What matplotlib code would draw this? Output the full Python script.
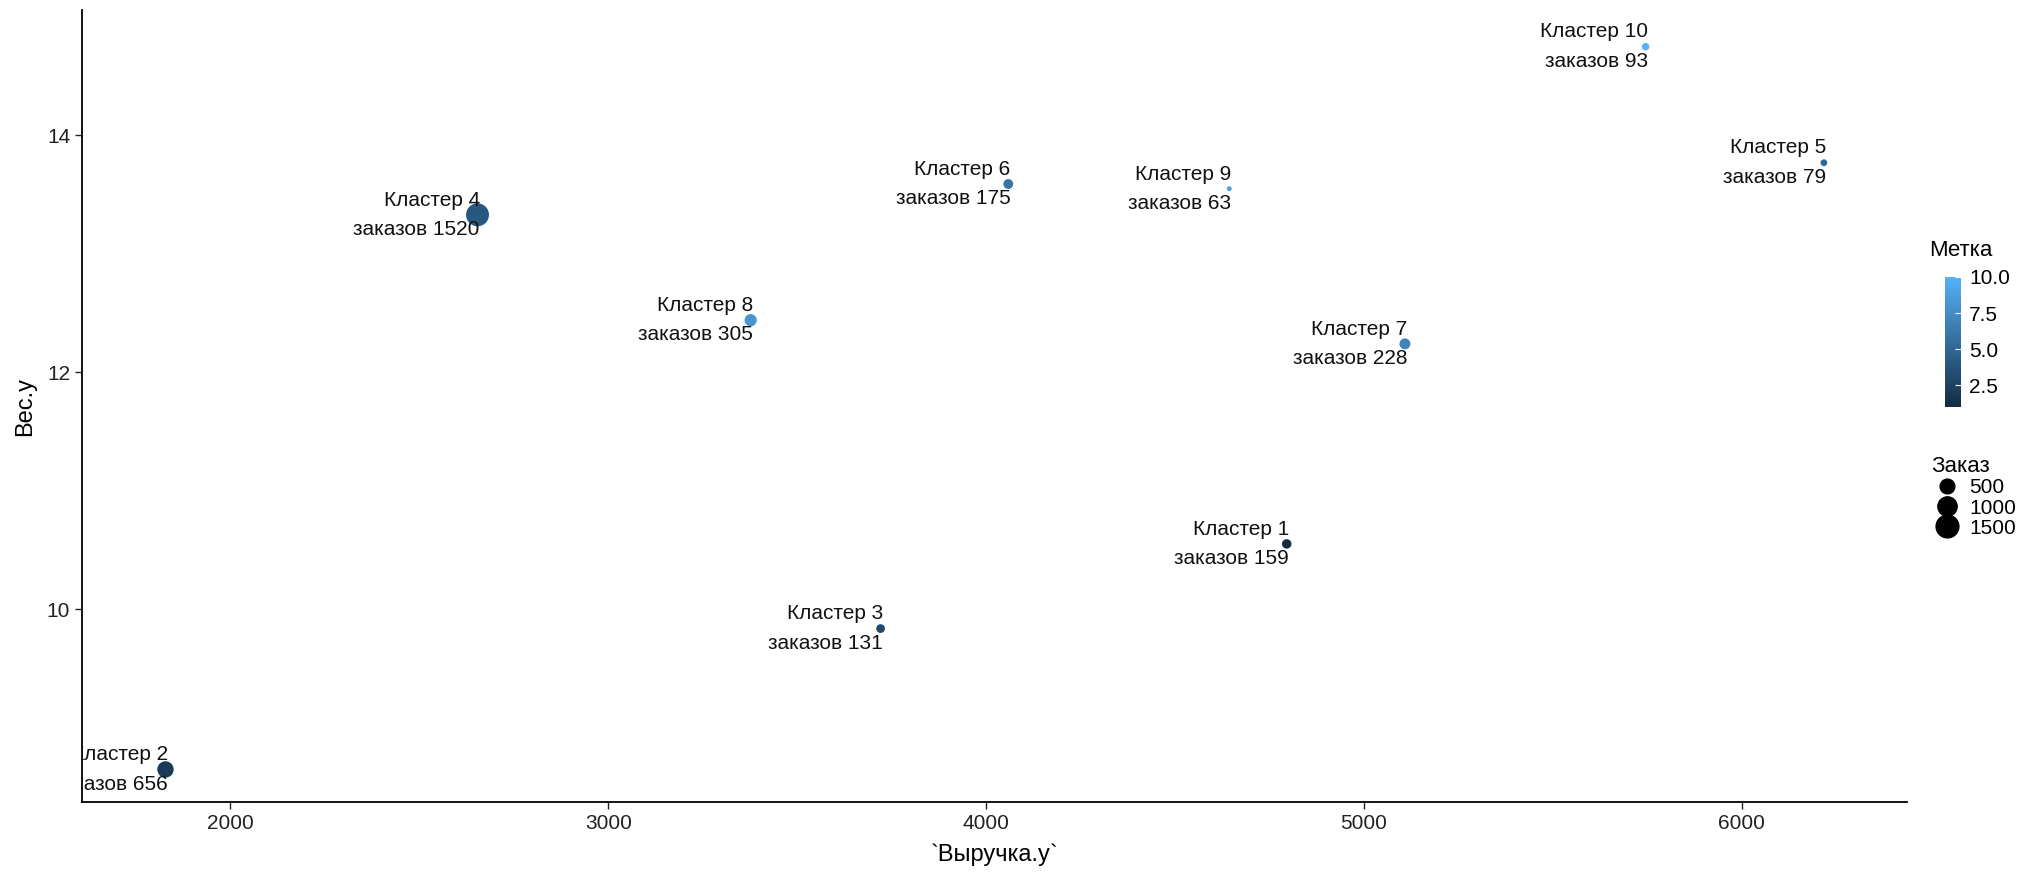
import numpy as np
import matplotlib
matplotlib.use("Agg")
import matplotlib.pyplot as plt
from matplotlib.colors import LinearSegmentedColormap, Normalize
from matplotlib.lines import Line2D

plt.rcParams['font.family'] = ['Liberation Sans', 'DejaVu Sans']

# данные кластеров
metka = [1, 2, 3, 4, 5, 6, 7, 8, 9, 10]
vyruchka = [4796, 1828, 3721, 2654, 6218, 4059, 5109, 3377, 4644, 5746]
ves = [10.55, 8.645, 9.835, 13.33, 13.77, 13.59, 12.24, 12.44, 13.55, 14.75]
zakaz = [159, 656, 131, 1520, 79, 175, 228, 305, 63, 93]

x_ticks = [2000, 3000, 4000, 5000, 6000]
y_ticks = [10, 12, 14]
cbar_ticks = [2.5, 5.0, 7.5, 10.0]
size_breaks = [500, 1000, 1500]

cmap = LinearSegmentedColormap.from_list("gg", ["#132B43", "#56B1F7"])
norm = Normalize(vmin=1, vmax=10)

zmin, zmax = min(zakaz), max(zakaz)
dmin, dmax = 3.5, 16.5


def diam(v):
    # как scale_size в ggplot: площадь пропорциональна значению
    return dmin + (dmax - dmin) * np.sqrt((np.asarray(v, float) - zmin) / (zmax - zmin))


W, H = 2041, 875
fig = plt.figure(figsize=(W / 100, H / 100), dpi=100)
ax = fig.add_axes([82 / W, 1 - 802 / H, (1907 - 82) / W, (802 - 10) / H])

ax.scatter(vyruchka, ves, s=diam(zakaz) ** 2, c=metka, cmap=cmap, norm=norm,
           linewidths=0, zorder=3)

for x, y, m, z in zip(vyruchka, ves, metka, zakaz):
    ax.text(x + 6, y, f"Кластер {m}\nзаказов {z}", ha='right', va='center',
            multialignment='right', fontsize=15, linespacing=1.7,
            color='#111111', zorder=4, clip_on=True)

ax.set_xlim(1607, 6438)
ax.set_ylim(8.37, 15.06)
ax.set_xticks(x_ticks)
ax.set_yticks(y_ticks)
ax.tick_params(labelsize=15, length=5, width=1, colors='#222222')
for side in ['top', 'right']:
    ax.spines[side].set_visible(False)
for side in ['left', 'bottom']:
    ax.spines[side].set_linewidth(1.3)
ax.set_xlabel("`Выручка.у`", fontsize=17, labelpad=8)
ax.set_ylabel("Вес.у", fontsize=17, labelpad=8)

# цветовая шкала
cax = fig.add_axes([1945 / W, 1 - 407 / H, 16 / W, 130 / H])
sm = plt.cm.ScalarMappable(norm=norm, cmap=cmap)
cb = fig.colorbar(sm, cax=cax, ticks=cbar_ticks)
cb.outline.set_visible(False)
cb.ax.set_yticklabels([f"{t:.1f}" for t in cbar_ticks])
cb.ax.tick_params(labelsize=15, length=4, color='white', direction='in', pad=6)
fig.text(1929 / W, 1 - 251 / H, "Метка", fontsize=16, va='center', ha='left')

# легенда размера
handles = [Line2D([], [], linestyle='none', marker='o', color='black',
                  markersize=float(diam(b))) for b in size_breaks]
leg = fig.legend(handles, [str(b) for b in size_breaks], title="Заказ",
                 loc='upper left', bbox_to_anchor=(1921 / W, 1 - 446 / H),
                 frameon=False, fontsize=15, title_fontsize=16,
                 handletextpad=0.3, labelspacing=0.05, borderpad=0,
                 handlelength=1.5)
leg._legend_box.align = "left"

fig.savefig("out.png", dpi=100, facecolor='white')
